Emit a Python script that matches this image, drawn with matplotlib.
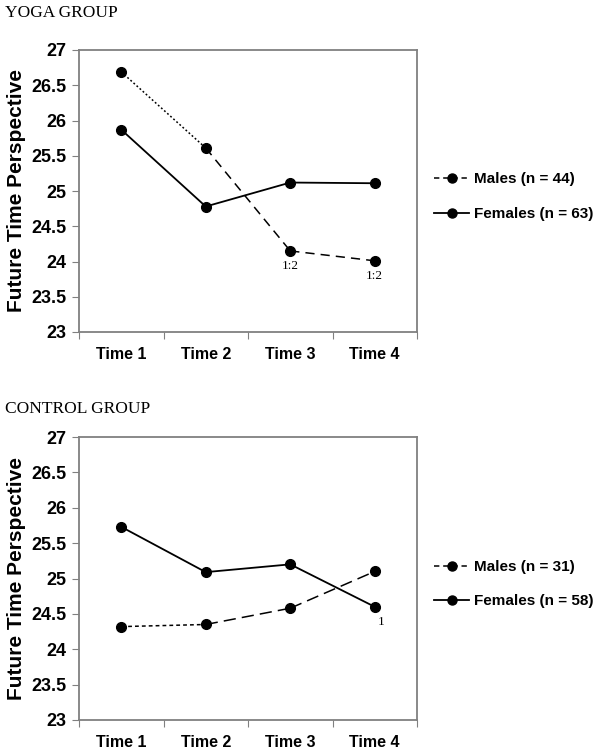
import matplotlib.pyplot as plt
from matplotlib.lines import Line2D

times = ["Time 1", "Time 2", "Time 3", "Time 4"]

yoga_males = [26.69, 25.61, 24.15, 24.01]
yoga_females = [25.87, 24.78, 25.12, 25.11]
yoga_n = (44, 63)
yoga_notes = {"males": [(2, "1:2"), (3, "1:2")], "females": []}

control_males = [24.32, 24.35, 24.58, 25.10]
control_females = [25.73, 25.09, 25.20, 24.60]
control_n = (31, 58)
control_notes = {"males": [], "females": [(3, "1")]}

yticks = [23, 23.5, 24, 24.5, 25, 25.5, 26, 26.5, 27]
sans = "Liberation Sans"
serif = "Liberation Serif"


def draw_panel(ax, title, title_y, males, females, n, notes, male_styles):
    x = list(range(len(times)))
    # males: each segment has its own dash pattern
    for i in range(len(x) - 1):
        ax.plot(x[i:i + 2], males[i:i + 2], color="black", lw=1.1,
                linestyle=male_styles[i])
    ax.plot(x, males, "o", color="black", ms=7)
    ax.plot(x, females, "-o", color="black", lw=1.3, ms=7)

    for i, txt in notes["males"]:
        ax.text(x[i], males[i] - 0.13, txt, ha="center", va="top",
                family=serif, fontsize=9.5)
    for i, txt in notes["females"]:
        ax.text(x[i] + 0.08, females[i] - 0.13, txt, ha="center", va="top",
                family=serif, fontsize=9.5)

    ax.set_xlim(-0.5, 3.5)
    ax.set_ylim(23, 27)
    ax.set_yticks(yticks)
    ax.set_yticklabels([f"{v:g}" for v in yticks], family=sans,
                       fontweight="bold", fontsize=13)
    ax.set_xticks([-0.5, 0.5, 1.5, 2.5, 3.5])
    ax.set_xticklabels([])
    ax.set_xticks(x, minor=True)
    ax.set_xticklabels(times, minor=True, family=sans, fontweight="bold",
                       fontsize=11.5)
    ax.tick_params(axis="x", which="minor", length=0, pad=11)
    ax.tick_params(axis="x", which="major", length=5, color="#808080")
    ax.tick_params(axis="y", length=5, color="#808080", pad=4)
    for s in ax.spines.values():
        s.set_color("#808080")
        s.set_linewidth(1.3)
    ax.set_ylabel("Future Time Perspective", family=sans, fontweight="bold",
                  fontsize=15, labelpad=4)

    handles = [
        Line2D([], [], color="black", lw=1.1, linestyle=(0, (3.5, 2.5)),
               marker="o", ms=6.5),
        Line2D([], [], color="black", lw=1.3, marker="o", ms=6.5),
    ]
    labels = [f"Males (n = {n[0]})", f"Females (n = {n[1]})"]
    ax.legend(handles, labels, loc="center left", bbox_to_anchor=(1.01, 0.48),
              frameon=False, handlelength=2.3, handletextpad=0.3,
              labelspacing=1.35,
              prop={"family": sans, "weight": "bold", "size": 11})
    ax.figure.text(0.008, 1 - title_y / 750, title, family=serif,
                   fontsize=12.5, va="center")


fig = plt.figure(figsize=(6.15, 7.5), dpi=100)
ax1 = fig.add_axes([79 / 615, 1 - 332 / 750, 338 / 615, 282 / 750])
ax2 = fig.add_axes([79 / 615, 1 - 720 / 750, 338 / 615, 283 / 750])

draw_panel(ax1, "YOGA GROUP", 13, yoga_males, yoga_females, yoga_n,
           yoga_notes, [(0, (1.2, 1.5)), (0, (6, 4)), (0, (6, 4))])
draw_panel(ax2, "CONTROL GROUP", 409, control_males, control_females,
           control_n, control_notes,
           [(0, (2.5, 2)), (0, (8, 4)), (0, (8, 4))])

fig.savefig("out.png", dpi=100)
